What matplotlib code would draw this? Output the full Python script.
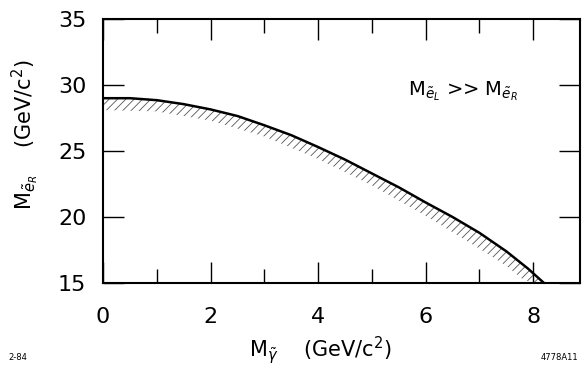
import numpy as np
import matplotlib
matplotlib.use('Agg')
import matplotlib.pyplot as plt

# boundary curve
m_photino = [0.0, 0.5, 1.0, 1.5, 2.0, 2.5, 3.0, 3.5, 4.0, 4.5, 5.0,
             5.5, 6.0, 6.5, 7.0, 7.5, 7.9, 8.05, 8.2]
m_selectron = [29.0, 29.0, 28.85, 28.55, 28.15, 27.65, 26.95, 26.2, 25.3,
               24.35, 23.3, 22.25, 21.1, 20.0, 18.8, 17.4, 16.1, 15.55, 15.0]

# lower edge of the hatched band
band_x = [0.0, 1.0, 2.0, 3.0, 4.0, 5.0, 6.0, 7.0, 7.5, 7.8, 8.0, 8.2]
band_lo = [28.1, 28.0, 27.3, 26.1, 24.4, 22.4, 20.1, 17.6, 16.3, 15.3, 15.0, 15.0]

x_ticks = [0, 2, 4, 6, 8]
y_ticks = [15, 20, 25, 30, 35]

plt.rcParams['font.family'] = ['DejaVu Sans']
plt.rcParams['hatch.linewidth'] = 0.6

fig = plt.figure(figsize=(5.83, 3.69), dpi=100)
ax = fig.add_axes([103 / 583, 1 - 283 / 369, 477 / 583, 264 / 369])

xs = np.linspace(0, 8.2, 300)
top = np.interp(xs, m_photino, m_selectron)
bot = np.interp(xs, band_x, band_lo)
ax.fill_between(xs, bot, top, facecolor='none', edgecolor='#555555',
                hatch='////', linewidth=0)
ax.plot(m_photino, m_selectron, color='black', lw=1.8)

ax.set_xlim(0, 8.87)
ax.set_ylim(15, 35)
ax.set_xticks(x_ticks)
ax.set_xticks([1, 3, 5, 7], minor=True)
ax.set_yticks(y_ticks)
ax.tick_params(which='both', direction='in', top=True, right=True,
               labelsize=16, width=1)
ax.tick_params(axis='x', pad=17)
ax.tick_params(axis='y', pad=12)
ax.tick_params(which='major', length=15)
ax.tick_params(which='minor', length=10)
for s in ax.spines.values():
    s.set_linewidth(1.5)

ax.text(0.64, 0.71, r'$\mathregular{M}_{\tilde{e}_L}$ >> $\mathregular{M}_{\tilde{e}_R}$',
        transform=ax.transAxes, fontsize=14)

fig.text(320 / 583, 1 - 350 / 369,
         r'$\mathregular{M}_{\tilde{\gamma}}$    (GeV/c$^2$)',
         fontsize=15, ha='center', va='center')
fig.text(25 / 583, 1 - 135 / 369,
         r'$\mathregular{M}_{\tilde{e}_R}$    (GeV/c$^2$)',
         fontsize=15, ha='center', va='center', rotation=90)

fig.text(8 / 583, 1 - 358 / 369, '2-84', fontsize=6, va='center')
fig.text(578 / 583, 1 - 358 / 369, '4778A11', fontsize=6, va='center', ha='right')

fig.savefig('out.png', dpi=100)
